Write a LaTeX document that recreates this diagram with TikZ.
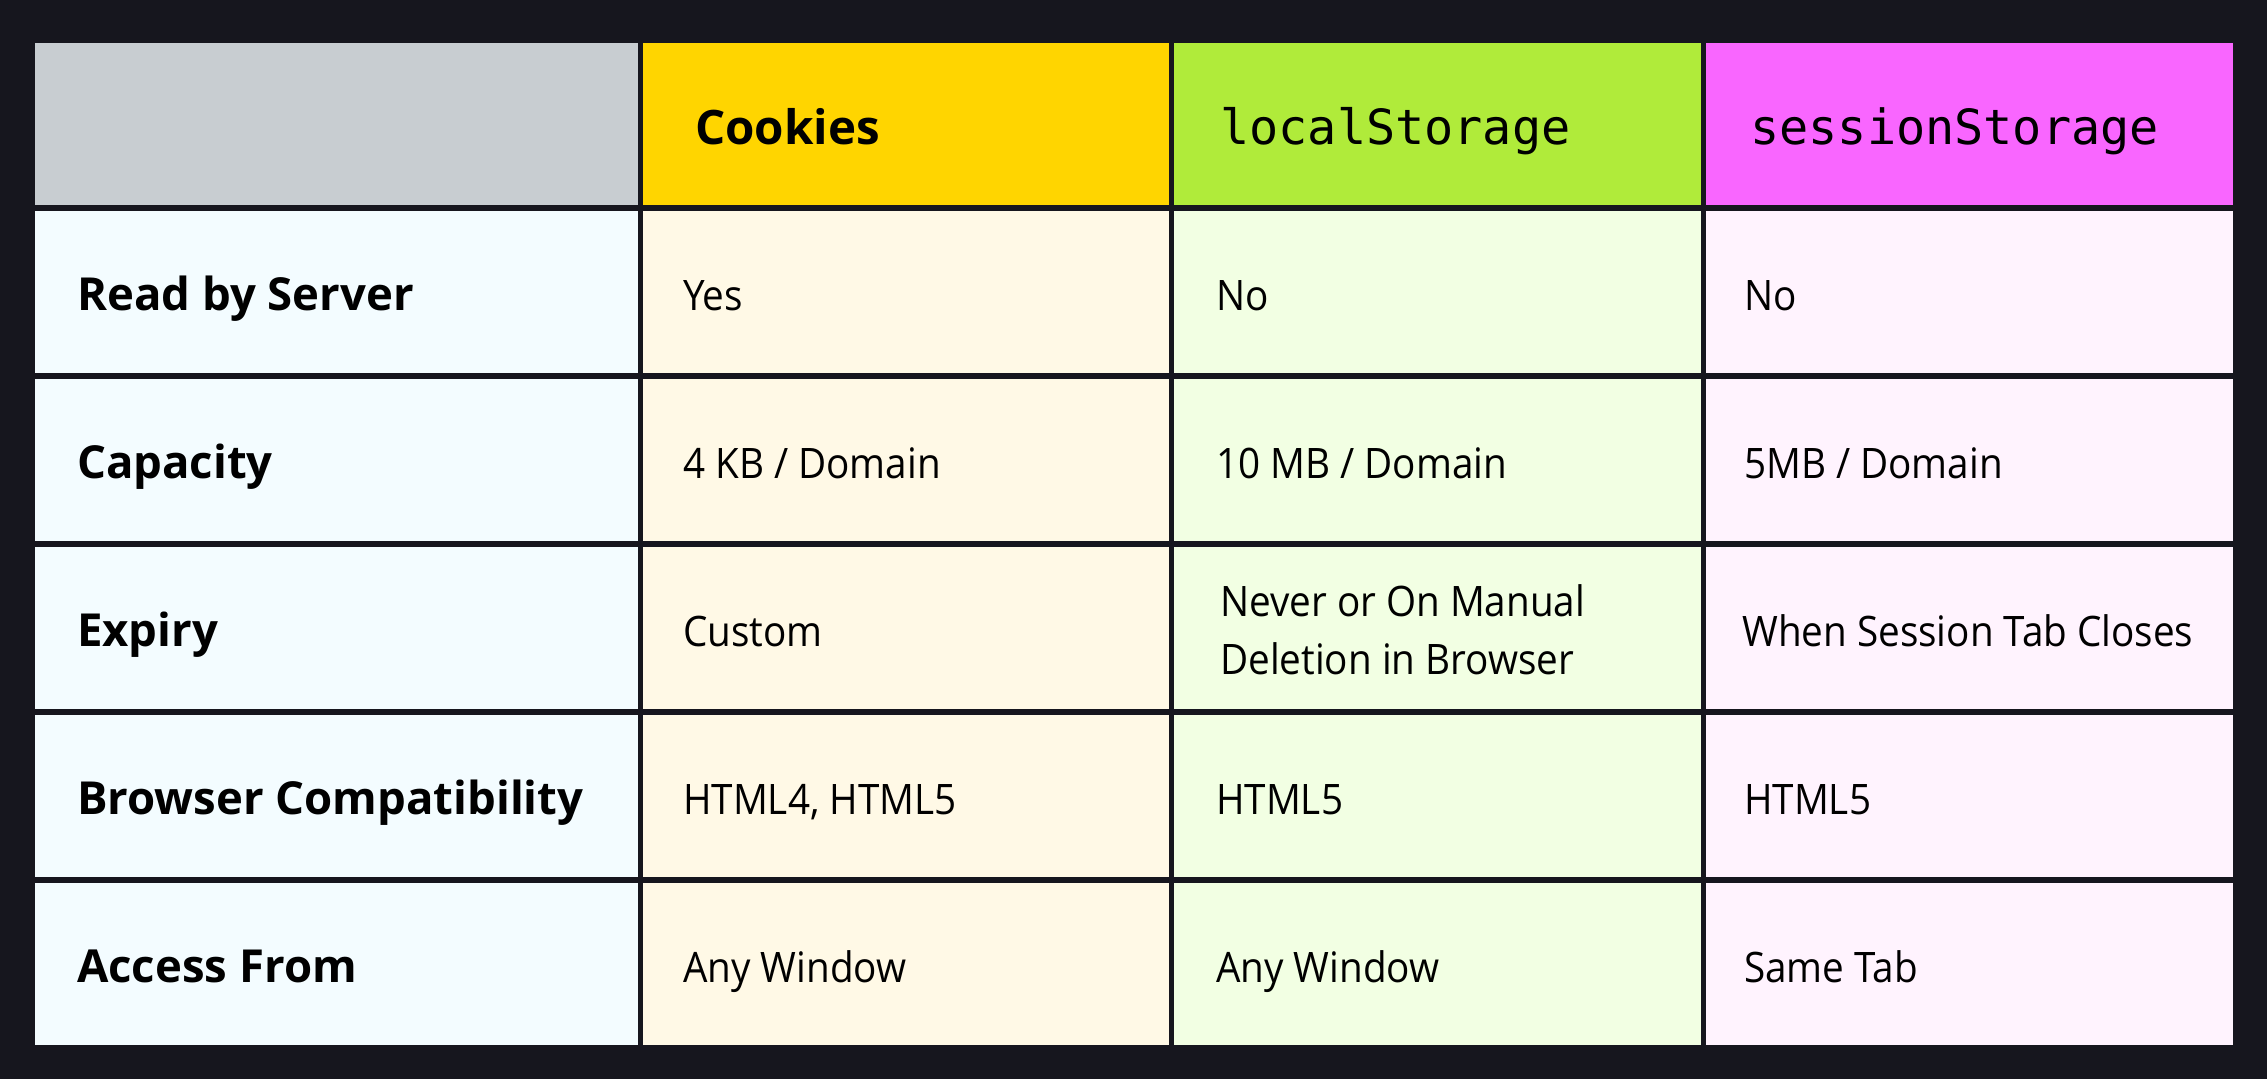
\documentclass[tikz,border=0pt]{standalone}
\usepackage{fontspec}
\setmainfont{Open Sans}
\newfontfamily\valf{Open Sans}[FakeStretch=0.92]
\newfontfamily\labf{Open Sans}
\newfontfamily\monof{DejaVu Sans Mono}
\definecolor{bgdark}{HTML}{16161E}
\definecolor{hgray}{HTML}{C8CDD1}
\definecolor{hyellow}{HTML}{FFD500}
\definecolor{hgreen}{HTML}{B0EB3A}
\definecolor{hpink}{HTML}{F966FF}
\definecolor{lblue}{HTML}{F3FCFF}
\definecolor{lyellow}{HTML}{FFF9E6}
\definecolor{lgreen}{HTML}{F2FFE3}
\definecolor{lpink}{HTML}{FFF3FE}
\begin{document}
\begin{tikzpicture}[x=1pt,y=-1pt,
  cell/.style={anchor=north west, draw=none, inner sep=0pt, outer sep=0pt, minimum height=162pt},
  w1/.style={cell, minimum width=603pt},
  w2/.style={cell, minimum width=526pt},
  w3/.style={cell, minimum width=527pt},
  lab/.style={anchor=base west, inner sep=0pt, font=\labf\fontsize{45.5}{58}\selectfont\bfseries},
  val/.style={anchor=base west, inner sep=0pt, align=left, font=\valf\fontsize{42}{58}\selectfont},
  hdsans/.style={anchor=base west, inner sep=0pt, font=\labf\fontsize{47.5}{58}\selectfont\bfseries},
  hdmono/.style={anchor=base west, inner sep=0pt, font=\monof\fontsize{48.5}{58}\selectfont}]
\fill[bgdark] (0,0) rectangle (2267,1079);
\useasboundingbox (0,0) rectangle (2267,1079);
% header row
\node[w1, fill=hgray]   (h0) at (35,43) {};
\node[w2, fill=hyellow] (h1) at (643,43) {};
\node[w3, fill=hgreen]  (h2) at (1174,43) {};
\node[w3, fill=hpink]   (h3) at (1706,43) {};
\node[hdsans] (th1) at ([xshift=52pt,yshift=-20pt]h1.west) {Cookies};
\node[hdmono] (th2) at ([xshift=46pt,yshift=-20pt]h2.west) {localStorage};
\node[hdmono] (th3) at ([xshift=44pt,yshift=-20pt]h3.west) {sessionStorage};
% body rows
\foreach \r/\y in {1/211,2/379,3/547,4/715,5/883}{
  \node[w1, fill=lblue]   (r\r c0) at (35,\y) {};
  \node[w2, fill=lyellow] (r\r c1) at (643,\y) {};
  \node[w3, fill=lgreen]  (r\r c2) at (1174,\y) {};
  \node[w3, fill=lpink]   (r\r c3) at (1706,\y) {};
}
% row labels
\node[lab] (l1) at ([xshift=42pt,yshift=-18pt]r1c0.west) {Read by Server};
\node[lab] (l2) at ([xshift=42pt,yshift=-18pt]r2c0.west) {Capacity};
\node[lab] (l3) at ([xshift=42pt,yshift=-18pt]r3c0.west) {Expiry};
\node[lab] (l4) at ([xshift=42pt,yshift=-18pt]r4c0.west) {Browser Compatibility};
\node[lab] (l5) at ([xshift=42pt,yshift=-18pt]r5c0.west) {Access From};
% values
\node[val] (v11) at ([xshift=40pt,yshift=-18pt]r1c1.west) {Yes};
\node[val] (v12) at ([xshift=42pt,yshift=-18pt]r1c2.west) {No};
\node[val] (v13) at ([xshift=38pt,yshift=-18pt]r1c3.west) {No};
\node[val] (v21) at ([xshift=40pt,yshift=-18pt]r2c1.west) {4 KB / Domain};
\node[val] (v22) at ([xshift=42pt,yshift=-18pt]r2c2.west) {10 MB / Domain};
\node[val] (v23) at ([xshift=38pt,yshift=-18pt]r2c3.west) {5MB / Domain};
\node[val] (v31) at ([xshift=40pt,yshift=-18pt]r3c1.west) {Custom};
\node[val, anchor=west] (v32) at ([xshift=46pt,yshift=-2pt]r3c2.west) {Never or On Manual\\Deletion in Browser};
\node[val] (v33) at ([xshift=36pt,yshift=-18pt]r3c3.west) {When Session Tab Closes};
\node[val] (v41) at ([xshift=40pt,yshift=-18pt]r4c1.west) {HTML4, HTML5};
\node[val] (v42) at ([xshift=42pt,yshift=-18pt]r4c2.west) {HTML5};
\node[val] (v43) at ([xshift=38pt,yshift=-18pt]r4c3.west) {HTML5};
\node[val] (v51) at ([xshift=40pt,yshift=-18pt]r5c1.west) {Any Window};
\node[val] (v52) at ([xshift=42pt,yshift=-18pt]r5c2.west) {Any Window};
\node[val] (v53) at ([xshift=38pt,yshift=-18pt]r5c3.west) {Same Tab};
\end{tikzpicture}
\end{document}
